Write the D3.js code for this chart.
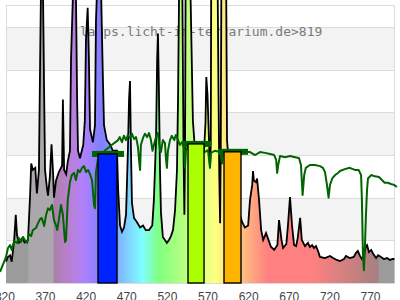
<!DOCTYPE html>
<html>
<head>
<meta charset="utf-8">
<script src="https://cdn.jsdelivr.net/npm/d3@7"></script>
<style>
  body { margin: 0; background: #fff; }
  svg { display: block; }
</style>
</head>
<body>
<script>
// Lamp spectrum [nm, relative value]
var lampSpectrum = [
  [322,10],[324,12],[327,13],[329,10],[332,20],[334,32],[335.5,22.5],[338,19],[342,21],[345,19],
  [349,20],[351.5,40],[353,56],[355,53],[358,54],[360,42],[362.5,53],[364,105],[365,137],[367.5,137],
  [369,86],[370,53],[372.5,44],[373.7,41],[376,50],[378,65],[380,51],[381,40],[383.5,48],[387,52],
  [391,55],[392,86],[393.5,53],[396,51],[398,57],[400.7,62],[402,105],[404.5,137],[408,137],[409.5,86],
  [410.6,62],[413,58.5],[417,64.7],[419,76],[420.4,114],[422.5,129],[424,105],[425.4,72],[429,66],[431.5,74],
  [432.7,123],[434,137],[439,137],[440.7,105],[442.6,74],[446,67],[450,65],[453.5,62],[458.6,62],[460,43.6],
  [462.3,27],[464.7,24],[467.2,26],[469.7,32],[472,62],[473.4,86],[474.6,94.7],[475.8,62],[477,37.5],[479.5,30.5],
  [483,28.6],[487,26],[490.6,26.9],[494,24.8],[498,24.8],[502,27],[504,39],[506.6,67],[508,105],[509,117],
  [510,95],[511.5,53],[512.7,33],[515,21.6],[517.6,20.2],[520,18.8],[522.6,20.2],[525,22],[527.5,24.8],[530,34],
  [532.4,53],[533.7,86],[535,137],[539,137],[540.5,60],[541.5,32],[542.3,60],[543,137],[549,137],[552,76],
  [554.6,62],[565.7,62],[567.5,75],[568.5,96.6],[570,88],[571.5,70],[573,54],[574,65],[574.5,137],[582.5,137],
  [583.5,90],[584.5,50],[585.5,28],[586.3,65],[587,137],[593,137],[594,67],[597.7,48],[604,39],[610,32],
  [612.5,28.6],[616,26],[620,27],[622.3,39],[625,46],[626,52.5],[627,48],[629.5,47.3],[631,49],[633.4,39],
  [636,24.8],[638.5,20.2],[642,23.4],[645,20.2],[648,17],[652,15.5],[656,17.8],[658,29.5],[661,20.2],[663,16.4],
  [667,18.3],[669,27],[671.5,40.3],[674,27],[676.5,17.8],[679,17.3],[681,21],[684,30.5],[686,20.2],[690,17.3],
  [693.6,18.8],[696,16.9],[698.7,17.8],[701,16.4],[703.5,17.3],[706,15],[708.4,12.2],[714.6,11.7],[720.7,12.7],[724.6,11.7],
  [729,10.8],[733,10.3],[738,11.25],[740.4,12.7],[745,11.7],[750,12.2],[752.6,14],[755,15],[757.6,12.7],[760,11.25],
  [762.5,13],[765,17.3],[766.3,17.8],[768.7,14.5],[771.4,15.5],[774,13.6],[777.5,11.7],[780,13],[783.5,12.2],[787,11.25],
  [791,11.7],[794.5,10.8],[798,11.25],[800,11.25]
];

// Reference (daylight) curve [nm, relative value]
var daylight = [
  [314.6,5.2],[318,8.4],[322,12.2],[324.4,16.4],[327,17.8],[329,15.5],[332,19.7],[335.5,18.8],[338,21],[340.4,19.2],
  [343,21.6],[345,20.2],[348,18.8],[350,23],[353,22],[355,24.8],[359,25.8],[361,27.7],[364,30],[366,30.5],
  [369,26.7],[371,31.4],[373.7,35],[376,34.2],[378.6,36.6],[381,29.5],[383.5,27],[385,24.8],[387,29.5],[389.7,36.6],
  [392,32],[394.6,19.2],[395.8,20],[398,39],[400.7,47.3],[403,50.6],[405.7,51.6],[408,48.3],[410.6,53],[413,52],
  [415.5,54],[418,54.8],[420.4,52],[423,53],[425.4,51],[427.8,48.3],[430.3,36.6],[431.5,35],[432.7,52],[435,57.7],
  [443.4,62],[452,64.7],[460,67],[462,68.4],[464.7,66],[467,69],[469.7,67],[472,69.4],[474.6,68],[477,70],
  [479.5,67.5],[482,68.4],[484.4,63.75],[485.7,57.7],[487,53],[488,64.7],[490.6,68],[493,70],[495.6,68.4],[498,70.3],
  [500.4,67],[502.3,62],[504,64.7],[506.6,68.4],[509,70.3],[511.5,62],[512.7,61.4],[515,67],[517.6,65.6],[519,57.7],
  [520,54],[521.3,62],[523.8,67],[526,69],[529,67],[531,69.4],[533.7,67],[536,64.7],[538.6,66],[541,63.75],
  [542.3,54],[543.5,62],[546,64],[554.6,63.3],[560.7,62.3],[566.9,61.4],[570.6,62.3],[573,54],[574.3,61],[579,62],
  [585.5,61.4],[587.9,56],[589,61],[597.7,61.4],[610,61.4],[622.3,61.4],[628.5,60],[634.6,61.4],[640.8,61],[647,60.5],
  [652,60],[654.5,57.7],[655.7,51.6],[657,55.3],[659.2,59.5],[665.4,59],[671.5,59.5],[677.7,59],[682.6,58.6],[685,55.3],
  [687,41.25],[689,50.6],[691,54],[696,55.3],[702.3,55.3],[708.4,54.8],[712,54],[714.6,52],[717,46],[719,40],
  [720.7,46],[723.5,49],[727,50.6],[730.6,51.6],[733,52.5],[739,53.4],[745,54],[751.4,53],[756,53],[759,50.6],
  [760,39],[761.3,13],[762.5,6],[763.8,17.8],[765,32],[766.3,43.6],[767.5,49],[771.4,50.6],[776,50],[781,49.7],
  [784.6,48.3],[788,47],[792,47],[795.8,46.4],[799.5,46],[803,45]
];

// Band bars: from nm, to nm, value, colour
var bandBars = [
  { from: 435.2, to: 458.6, value: 60.5, color: "#0022ff" },
  { from: 546.0, to: 565.7, value: 65.2, color: "#aaff00" },
  { from: 590.3, to: 611.2, value: 61.5, color: "#ffb400" }
];

var tickValues = [320, 370, 420, 470, 520, 570, 620, 670, 720, 770];
var gridValues = [20, 40, 60, 80, 100, 120];
var shadedBands = [[20, 40], [60, 80], [100, 120]];
var titleText = "lamps.licht-im-terrarium.de>819";


var width = 400, height = 300;
var svg = d3.select("body").append("svg")
  .attr("width", width)
  .attr("height", height);

var x = d3.scaleLinear().domain([320, 800]).range([4.4, 394.4]);
var y = d3.scaleLinear().domain([0, 130]).range([283, 5.7]);

var plotLeft = 6, plotRight = 395, plotTop = 5, plotBottom = 283;

// wavelength -> pastel colour (spectral colour blended half with white)
function nmColor(nm) {
  if (nm < 350) return "#9b9b9b";
  if (nm < 381) return "#aca7ac";
  if (nm > 780) return "#9b9b9b";
  var r = 0, g = 0, b = 0;
  if (nm < 440) { r = (440 - nm) / 60; b = 1; }
  else if (nm < 490) { g = (nm - 440) / 50; b = 1; }
  else if (nm < 510) { g = 1; b = (510 - nm) / 20; }
  else if (nm < 580) { r = (nm - 510) / 70; g = 1; }
  else if (nm < 645) { r = 1; g = (645 - nm) / 65; }
  else { r = 1; }
  var f = nm < 420 ? 0.3 + 0.7 * (nm - 380) / 40 : nm > 700 ? 0.3 + 0.7 * (780 - nm) / 80 : 1;
  return d3.rgb(255 * (r * f + 1) / 2, 255 * (g * f + 1) / 2, 255 * (b * f + 1) / 2).formatHex();
}

var grad = svg.append("defs").append("linearGradient")
  .attr("id", "spec")
  .attr("gradientUnits", "userSpaceOnUse")
  .attr("x1", x(322)).attr("x2", x(800))
  .attr("y1", 0).attr("y2", 0);
grad.selectAll("stop")
    .data(d3.range(322, 801, 1)).enter()
  .append("stop")
    .attr("offset", function(d) { return (d - 322) / (800 - 322); })
    .attr("stop-color", function(d) { return nmColor(d); });

// Background
svg.append("rect")
  .attr("x", plotLeft).attr("y", plotTop)
  .attr("width", plotRight - plotLeft).attr("height", plotBottom - plotTop)
  .attr("fill", "#fff");

svg.selectAll("rect.band")
    .data(shadedBands).enter()
  .append("rect")
    .attr("class", "band")
    .attr("x", plotLeft)
    .attr("width", plotRight - plotLeft)
    .attr("y", function(d) { return y(d[1]); })
    .attr("height", function(d) { return y(d[0]) - y(d[1]); })
    .attr("fill", "#f3f3f3");

svg.selectAll("line.grid")
    .data(gridValues).enter()
  .append("line")
    .attr("class", "grid")
    .attr("x1", plotLeft).attr("x2", plotRight)
    .attr("y1", function(d) { return Math.round(y(d)) + 0.5; })
    .attr("y2", function(d) { return Math.round(y(d)) + 0.5; })
    .attr("stroke", "#dcdcdc");

svg.append("rect")
  .attr("x", plotLeft + 0.5).attr("y", plotTop + 0.5)
  .attr("width", plotRight - plotLeft - 1).attr("height", plotBottom - plotTop)
  .attr("fill", "none")
  .attr("stroke", "#dcdcdc");

// Title (drawn under the peaks)
svg.append("text")
  .attr("x", 201).attr("y", 36)
  .attr("text-anchor", "middle")
  .attr("font-family", "DejaVu Sans Mono, monospace")
  .attr("font-size", 13)
  .attr("fill", "#7a7a7a")
  .text(titleText);

// Lamp spectrum
var area = d3.area()
  .x(function(d) { return x(d[0]); })
  .y0(y(0))
  .y1(function(d) { return y(d[1]); });
var line = d3.line()
  .x(function(d) { return x(d[0]); })
  .y(function(d) { return y(d[1]); });

svg.append("path")
  .datum(lampSpectrum)
  .attr("d", area)
  .attr("fill", "url(#spec)");

svg.append("path")
  .datum(lampSpectrum)
  .attr("d", line)
  .attr("fill", "none")
  .attr("stroke", "#000")
  .attr("stroke-width", 1.8);

// Daylight curve
svg.append("path")
  .datum(daylight)
  .attr("d", line)
  .attr("fill", "none")
  .attr("stroke", "#006400")
  .attr("stroke-width", 2)
  .attr("stroke-linejoin", "round");

// Caps behind the bars
svg.selectAll("rect.cap")
    .data(bandBars).enter()
  .append("rect")
    .attr("class", "cap")
    .attr("x", function(d) { return x(d.from) - 6; })
    .attr("width", function(d) { return x(d.to) - x(d.from) + 13; })
    .attr("y", function(d) { return y(d.value) - 3; })
    .attr("height", 6)
    .attr("fill", "#006400");

svg.selectAll("rect.bar")
    .data(bandBars).enter()
  .append("rect")
    .attr("class", "bar")
    .attr("x", function(d) { return x(d.from); })
    .attr("width", function(d) { return x(d.to) - x(d.from); })
    .attr("y", function(d) { return y(d.value); })
    .attr("height", function(d) { return y(0) - y(d.value); })
    .attr("fill", function(d) { return d.color; })
    .attr("stroke", "#000")
    .attr("stroke-width", 1.4);

// X axis labels
var axis = svg.append("g")
  .attr("transform", "translate(0," + plotBottom + ")")
  .call(d3.axisBottom(x).tickValues(tickValues).tickSize(0).tickPadding(9));
axis.select(".domain").remove();
axis.selectAll("text")
  .attr("font-family", "Liberation Sans, Arial, sans-serif")
  .attr("font-size", 12)
  .attr("fill", "#444");
</script>
</body>
</html>
